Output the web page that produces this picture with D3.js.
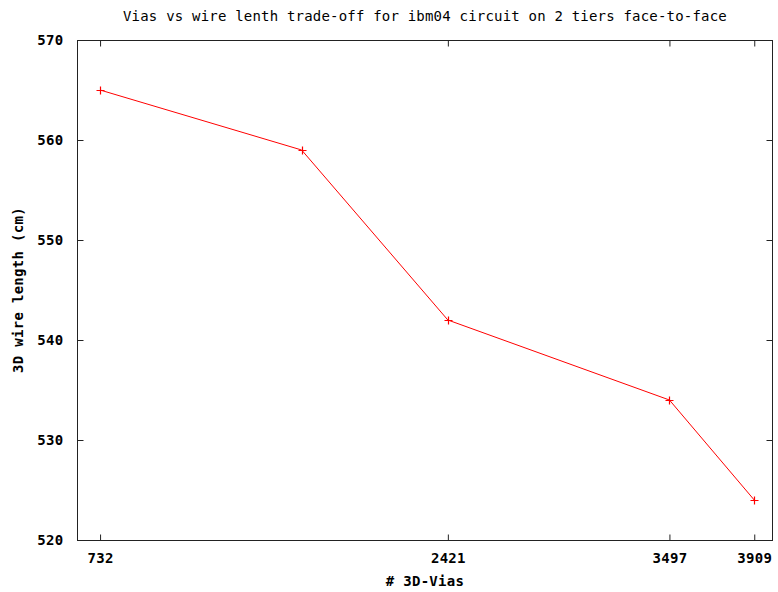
<!doctype html>
<html>
<head>
<meta charset="utf-8">
<script src="https://d3js.org/d3.v7.min.js"></script>
<style>
  body { margin: 0; background: #fff; }
  text { font-family: "DejaVu Sans Mono", monospace; fill: #000; }
  .bold { font-weight: bold; font-size: 14px; letter-spacing: 0.3px; }
</style>
</head>
<body>
<div id="chart"></div>
<script>
// data
const vias = [732, 1711, 2421, 3497, 3909];
const wireLength = [565, 559, 542, 534, 524];
const yTicks = [520, 530, 540, 550, 560, 570];
const xTicks = [732, 2421, 3497, 3909];

const W = 778, H = 592;
const mLeft = 77, mRight = 773, mTop = 40, mBottom = 540;

const svg = d3.select("#chart").append("svg")
  .attr("width", W).attr("height", H);

const x = d3.scaleLinear().domain([620, 4000]).range([mLeft, mRight]);
const y = d3.scaleLinear().domain([520, 570]).range([mBottom, mTop]);

// axes with inward ticks on all sides
const tickLen = 6;
svg.append("g").attr("transform", `translate(0,${mBottom + 0.5})`)
  .call(d3.axisBottom(x).tickValues(xTicks).tickSize(-tickLen).tickPadding(tickLen + 7).tickFormat(d3.format("d")))
  .call(g => g.select(".domain").remove())
  .call(g => g.selectAll("text").attr("class", "bold").attr("dy", "0.71em"));

svg.append("g").attr("transform", `translate(0,${mTop + 0.5})`)
  .call(d3.axisTop(x).tickValues(xTicks).tickSize(-tickLen).tickFormat(""))
  .call(g => g.select(".domain").remove());

svg.append("g").attr("transform", `translate(${mLeft + 0.5},0)`)
  .call(d3.axisLeft(y).tickValues(yTicks).tickSize(-tickLen).tickPadding(tickLen + 8))
  .call(g => g.select(".domain").remove())
  .call(g => g.selectAll("text").attr("class", "bold"));

svg.append("g").attr("transform", `translate(${mRight - 0.5},0)`)
  .call(d3.axisRight(y).tickValues(yTicks).tickSize(-tickLen).tickFormat(""))
  .call(g => g.select(".domain").remove());

svg.selectAll(".tick line").attr("stroke", "#222");

// frame
svg.append("rect")
  .attr("x", mLeft + 0.5).attr("y", mTop + 0.5)
  .attr("width", mRight - mLeft - 1).attr("height", mBottom - mTop)
  .attr("fill", "none").attr("stroke", "#222");

// series
const pts = vias.map((v, i) => [v, wireLength[i]]);
svg.append("path")
  .datum(pts)
  .attr("fill", "none").attr("stroke", "#ff0000").attr("stroke-width", 1)
  .attr("d", d3.line().x(d => x(d[0])).y(d => y(d[1])));

svg.selectAll(".pt").data(pts).enter().append("path")
  .attr("class", "pt")
  .attr("d", d => {
    const cx = Math.round(x(d[0])) + 0.5, cy = Math.round(y(d[1])) + 0.5;
    return `M${cx - 4},${cy}H${cx + 4}M${cx},${cy - 4}V${cy + 4}`;
  })
  .attr("stroke", "#ff0000").attr("stroke-width", 1.2);

// titles
svg.append("text")
  .attr("x", (mLeft + mRight) / 2).attr("y", 21)
  .attr("text-anchor", "middle")
  .style("font-size", "14px").style("letter-spacing", "0.2px")
  .text("Vias vs wire lenth trade-off for ibm04 circuit on 2 tiers face-to-face");

svg.append("text")
  .attr("class", "bold")
  .attr("x", (mLeft + mRight) / 2).attr("y", 586)
  .attr("text-anchor", "middle")
  .text("# 3D-Vias");

svg.append("text")
  .attr("class", "bold")
  .attr("transform", `translate(23,${(mTop + mBottom) / 2}) rotate(-90)`)
  .attr("text-anchor", "middle")
  .text("3D wire length (cm)");
</script>
</body>
</html>
